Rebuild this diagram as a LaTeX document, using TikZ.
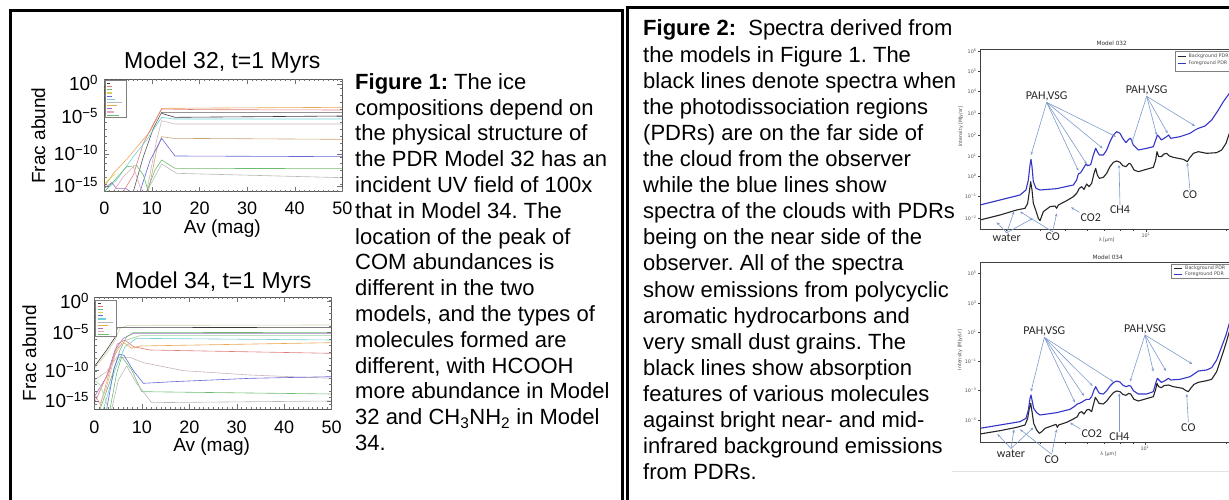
\documentclass[tikz,border=0pt]{standalone}
\usepackage{fontspec}
\setmainfont{Liberation Sans}
\newfontfamily\annfont{Carlito}
\newfontfamily\mplfont{DejaVu Sans}
\usetikzlibrary{arrows.meta}
\frenchspacing

\definecolor{specblue}{HTML}{3434C8}
\definecolor{arrowblue}{HTML}{7C9ACB}
\definecolor{lgray}{HTML}{E2E2E2}
\definecolor{cBlack}{HTML}{3A3A3A}
\definecolor{cDark}{HTML}{5A5A5A}
\definecolor{cRed}{HTML}{E07C7C}
\definecolor{cGreen}{HTML}{6CBC6C}
\definecolor{cYellow}{HTML}{D8D058}
\definecolor{cBlue}{HTML}{6666D6}
\definecolor{cCyan}{HTML}{70D0D8}
\definecolor{cGray}{HTML}{B8B8B8}
\definecolor{cOrange}{HTML}{E8A850}
\definecolor{cPurple}{HTML}{A070C8}
\definecolor{cPink}{HTML}{E4A8C0}
\definecolor{cTan}{HTML}{C8A474}
\definecolor{cPinkGray}{HTML}{CCB4B4}
\definecolor{cLightTan}{HTML}{D6CCAE}

\tikzset{
  panel/.style={draw=black, line width=3pt},
  capline/.style={anchor=base west, inner sep=0pt, font=\fontsize{22}{26}\selectfont},
  zoomed/.style={x=0.33333pt, y=-0.33333pt},
  idlframe/.style={draw=black!65, line width=0.6pt},
  idltick/.style={draw=black!55, line width=0.4pt},
  idllabel/.style={inner sep=0pt, font=\fontsize{19}{22}\selectfont},
  idlnum/.style={inner sep=0pt, anchor=base, font=\fontsize{18}{21}\selectfont},
  idltitle/.style={inner sep=0pt, anchor=base, font=\fontsize{23}{26}\selectfont},
  idlcurve/.style={line width=0.6pt},
  legendbox/.style={draw=black!50, line width=0.5pt, fill=white},
  mplframe/.style={draw=black!75, line width=0.5pt},
  mpltick/.style={inner sep=0pt, font=\mplfont\fontsize{4.8}{5.5}\selectfont, text=black!70},
  mpltitle/.style={inner sep=0pt, font=\mplfont\fontsize{5.8}{6.5}\selectfont, text=black!80},
  bgspec/.style={draw=black!85, line width=1.1pt, line join=round},
  fgspec/.style={draw=specblue, line width=1.1pt, line join=round},
  feature/.style={inner sep=0.8pt, font=\annfont\fontsize{12}{13}\selectfont, text=black!85},
  pointer/.style={draw=arrowblue, line width=0.6pt, -{Stealth[length=3.2pt,width=2.6pt]}},
}

\begin{document}
\begin{tikzpicture}[x=1pt, y=-1pt]
\useasboundingbox (0,0) rectangle (1229,500);
\clip (0,0) rectangle (1229,500);

% ---------- panel frames ----------
\draw[panel] (10.3,520) -- (10.3,11) -- (622.5,11) -- (622.5,520);
\draw[panel] (627.5,520) -- (627.5,8) -- (1240,8);

% ---------- caption of figure 1 ----------
\foreach \txt [count=\i] in {
  {\textbf{Figure 1:} The ice},
  {compositions depend on},
  {the physical structure of},
  {the PDR Model 32 has an},
  {incident UV field of 100x},
  {that in Model 34. The},
  {location of the peak of},
  {COM abundances is},
  {different in the two},
  {models, and the types of},
  {molecules formed are},
  {different, with HCOOH},
  {more abundance in Model},
  {32 and CH\textsubscript{3}NH\textsubscript{2} in Model},
  {34.}}
  \node[capline] (capA\i) at (355, {89.3+25.8*(\i-1)}) {\txt};

% ---------- caption of figure 2 ----------
\foreach \txt [count=\i] in {
  {\textbf{Figure 2:}\ \ Spectra derived from},
  {the models in Figure 1. The},
  {black lines denote spectra when},
  {the photodissociation regions},
  {(PDRs) are on the far side of},
  {the cloud from the observer},
  {while the blue lines show},
  {spectra of the clouds with PDRs},
  {being on the near side of the},
  {observer. All of the spectra},
  {show emissions from polycyclic},
  {aromatic hydrocarbons and},
  {very small dust grains. The},
  {black lines show absorption},
  {features of various molecules},
  {against bright near- and mid-},
  {infrared background emissions},
  {from PDRs.}}
  \node[capline] (capB\i) at (643, {36+26.1*(\i-1)}) {\txt};

% =====================================================
% Abundance plot, model 32
% =====================================================
\begin{scope}[zoomed]
  \node[idltitle] (t32) at (667,205) {Model 32, t=1 Myrs};
  \begin{scope}
    \clip (313,237) rectangle (1027,575);
    \draw[idlcurve, cOrange] (313,560) -- (340,520) -- (380,478) -- (420,430) -- (450,395) -- (485,325) -- (1027,322);
    \draw[idlcurve, cRed] (370,575) -- (400,525) -- (430,430) -- (460,372) -- (485,327) -- (600,329) -- (1027,330);
    \draw[idlcurve, cDark] (400,575) -- (430,470) -- (460,385) -- (485,337) -- (1027,337);
    \draw[idlcurve, cBlack] (485,340) -- (525,352) -- (1027,348);
    \draw[idlcurve, cCyan] (313,575) -- (350,540) -- (400,470) -- (440,420) -- (485,352) -- (520,357) -- (1027,357);
    \draw[idlcurve, cPinkGray] (440,575) -- (470,420) -- (485,362) -- (525,372) -- (1027,372);
    \draw[idlcurve, cTan] (445,575) -- (470,450) -- (485,410) -- (520,415) -- (1027,418);
    \draw[idlcurve, cBlue] (420,575) -- (450,482) -- (485,415) -- (525,468) -- (1027,470);
    \draw[idlcurve, cGreen] (440,575) -- (465,510) -- (485,480) -- (525,505) -- (1027,506);
    \draw[idlcurve, cGray] (440,575) -- (470,520) -- (485,492) -- (530,520) -- (1027,533);
    \draw[idlcurve, cGreen] (313,575) -- (340,545) -- (380,500) -- (410,497) -- (430,525) -- (445,575);
    \draw[idlcurve, cPurple] (313,565) -- (335,548) -- (350,566) -- (378,566) -- (392,575);
    \draw[idlcurve, cPink] (340,575) -- (370,530) -- (400,500) -- (420,560) -- (430,575);
    \draw[idlcurve, cYellow] (313,552) -- (325,540) -- (345,522);
  \end{scope}
  \draw[idlframe] (313,237) rectangle (1027,575);
  \foreach \k in {0,...,50} {
    \draw[idltick] ({313+14.28*\k},575) -- ++(0,-6);
    \draw[idltick] ({313+14.28*\k},237) -- ++(0,6);
  }
  \foreach \k in {0,...,5} {
    \draw[idltick] ({313+142.8*\k},575) -- ++(0,-15);
    \draw[idltick] ({313+142.8*\k},237) -- ++(0,15);
  }
  \foreach \yy in {252,350,463,558} {
    \draw[idltick] (313,\yy) -- ++(15,0);
    \draw[idltick] (1027,\yy) -- ++(-15,0);
  }
  \foreach \k in {0,...,16} {
    \draw[idltick] (313,{245+20.5*\k}) -- ++(7,0);
    \draw[idltick] (1027,{245+20.5*\k}) -- ++(-7,0);
  }
  % legend
  \draw[legendbox] (315,240) rectangle (380,352);
  \foreach \c/\len [count=\i] in {cBlack/10, cRed/15, cGreen/15, cYellow/15, cBlue/15, cCyan/25,
      cGray/45, cOrange/30, cPurple/15, cPink/20, cGreen/35}
    \draw[\c, line width=1.1pt] (321,{241+9.5*\i}) -- ++(\len,0);
  % axes labels
  \foreach \yy/\ee in {272/0, 370/{−5}, 483/{−10}, 578/{−15}}
    \node[idllabel, anchor=base east] at (295,\yy) {10\textsuperscript{\ee}};
  \foreach \v [count=\i from 0] in {0,10,20,30,40,50}
    \node[idlnum] (x32\v) at ({313+142.8*\i},645) {\v};
  \node[idllabel, anchor=base] (av32) at (667,702) {Av (mag)};
  \node[idllabel, rotate=90] (fa32) at (115,407) {Frac abund};
\end{scope}

% =====================================================
% Abundance plot, model 34
% =====================================================
\begin{scope}[shift={(0,240)}]
\begin{scope}[zoomed]
  \node[idltitle] (t34) at (640,145) {Model 34, t=1 Myrs};
  \begin{scope}
    \clip (283,172) rectangle (995,508);
    \draw[idlcurve, cLightTan] (283,385) -- (320,340) -- (345,300) -- (360,265) -- (385,256) -- (995,255);
    \draw[idlcurve, cBlack] (283,380) -- (320,330) -- (345,292) -- (352,263) -- (995,262);
    \draw[idlcurve, cPurple] (283,470) -- (320,410) -- (345,330) -- (370,295) -- (400,280) -- (995,280);
    \draw[idlcurve, cGreen] (300,508) -- (335,410) -- (360,330) -- (380,290) -- (400,278) -- (995,277);
    \draw[idlcurve, cGreen!70] (380,300) -- (420,287) -- (995,287);
    \draw[idlcurve, cCyan] (310,508) -- (345,390) -- (375,320) -- (410,295) -- (995,300);
    \draw[idlcurve, cOrange] (300,500) -- (335,370) -- (352,325) -- (372,308) -- (395,325) -- (420,318) -- (995,308);
    \draw[idlcurve, cRed] (283,490) -- (330,385) -- (352,312) -- (375,300) -- (400,320) -- (450,330) -- (995,340);
    \draw[idlcurve, cPinkGray] (283,420) -- (320,395) -- (350,352) -- (390,352) -- (430,368) -- (550,392) -- (750,405) -- (995,415);
    \draw[idlcurve, cBlue] (320,508) -- (342,385) -- (358,343) -- (372,346) -- (400,392) -- (430,430) -- (520,425) -- (750,415) -- (995,410);
    \draw[idlcurve, cGreen] (330,508) -- (350,400) -- (365,350) -- (395,390) -- (425,455) -- (995,462);
    \draw[idlcurve, cGray] (335,508) -- (355,420) -- (380,378) -- (410,430) -- (455,488) -- (995,483);
    \draw[idlcurve, cPink] (283,460) -- (300,492) -- (320,440) -- (345,345) -- (365,310);
    \draw[idlcurve, cGreen!60] (283,420) -- (300,435) -- (315,475) -- (325,508);
  \end{scope}
  \draw[idlframe] (283,172) rectangle (995,508);
  \foreach \k in {0,...,50} {
    \draw[idltick] ({283+14.24*\k},508) -- ++(0,-6);
    \draw[idltick] ({283+14.24*\k},172) -- ++(0,6);
  }
  \foreach \k in {0,...,5} {
    \draw[idltick] ({283+142.4*\k},508) -- ++(0,-15);
    \draw[idltick] ({283+142.4*\k},172) -- ++(0,15);
  }
  \foreach \yy in {185,278,392,483} {
    \draw[idltick] (283,\yy) -- ++(15,0);
    \draw[idltick] (995,\yy) -- ++(-15,0);
  }
  \foreach \k in {0,...,16} {
    \draw[idltick] (283,{180+19.5*\k}) -- ++(7,0);
    \draw[idltick] (995,{180+19.5*\k}) -- ++(-7,0);
  }
  % legend
  \draw[legendbox] (287,180) rectangle (350,290);
  \foreach \c/\len [count=\i] in {cBlack/10, cRed/15, cGreen/15, cYellow/15, cBlue/15, cCyan/25,
      cGray/45, cOrange/30, cPurple/15, cPink/20, cGreen/35}
    \draw[\c, line width=1.1pt] (293,{180+9.5*\i}) -- ++(\len,0);
  % axes labels
  \foreach \yy/\ee in {205/0, 298/{−5}, 412/{−10}, 503/{−15}}
    \node[idllabel, anchor=base east] at (268,\yy) {10\textsuperscript{\ee}};
  \foreach \v [count=\i from 0] in {0,10,20,30,40,50}
    \node[idlnum] (x34\v) at ({283+142.4*\i},580) {\v};
  \node[idllabel, anchor=base] (av34) at (635,635) {Av (mag)};
  \node[idllabel, rotate=90] (fa34) at (88,340) {Frac abund};
\end{scope}
\end{scope}

% =====================================================
% Spectrum, model 032
% =====================================================
\begin{scope}[shift={(940,0)}]
\begin{scope}[zoomed]
  \node[mpltitle] (s32title) at (515,130) {Model 032};
  \begin{scope}
    \clip (120,148) rectangle (905,688);
    \draw[bgspec] (120,660) -- (180,645) -- (230,630) -- (255,625) -- (263,610) -- (268,575) -- (272,545) -- (276,570) -- (280,610) -- (287,630) -- (295,655) -- (300,662) -- (310,635) -- (330,620) -- (345,618) -- (350,625) -- (355,615) -- (380,602) -- (400,590) -- (410,580) -- (418,565) -- (425,560) -- (432,568) -- (440,552) -- (447,560) -- (455,550) -- (462,520) -- (467,505) -- (472,525) -- (478,535) -- (490,532) -- (500,520) -- (510,500) -- (520,487) -- (530,483) -- (540,487) -- (548,497) -- (558,500) -- (567,490) -- (572,492) -- (582,510) -- (595,515) -- (640,502) -- (647,480) -- (651,455) -- (656,470) -- (664,470) -- (672,462) -- (680,460) -- (688,468) -- (700,472) -- (730,478) -- (742,485) -- (748,475) -- (760,460) -- (775,455) -- (800,460) -- (830,458) -- (845,450) -- (858,430) -- (868,400) -- (900,340);
    \draw[fgspec] (120,615) -- (180,600) -- (240,585) -- (258,570) -- (265,540) -- (270,495) -- (273,478) -- (276,500) -- (280,545) -- (288,565) -- (300,570) -- (350,566) -- (400,555) -- (410,540) -- (415,522) -- (422,518) -- (430,505) -- (438,492) -- (443,497) -- (452,494) -- (460,465) -- (467,445) -- (472,455) -- (478,465) -- (490,465) -- (500,450) -- (510,425) -- (520,405) -- (530,395) -- (540,400) -- (548,415) -- (558,428) -- (566,418) -- (572,415) -- (580,435) -- (595,450) -- (620,445) -- (640,440) -- (647,420) -- (652,405) -- (657,410) -- (664,420) -- (672,415) -- (680,410) -- (686,405) -- (692,415) -- (720,410) -- (750,400) -- (765,390) -- (775,385) -- (795,378) -- (815,360) -- (835,330) -- (850,305) -- (868,280) -- (900,230);
  \end{scope}
  \draw[mplframe] (920,148) -- (120,148) -- (120,688) -- (920,688);
  \foreach \yy/\ee in {155/6, 215/5, 275/4, 340/3, 405/2, 470/1, 530/0, 590/{−1}, 655/{−2}} {
    \draw[mplframe] (120,\yy) -- (113,\yy);
    \node[mpltick, anchor=east] at (110,\yy) {10\textsuperscript{\ee}};
  }
  \draw[mplframe] (618,688) -- (618,696);
  \foreach \xx in {200,300,377,441,494,540,581,859}
    \draw[mplframe] (\xx,688) -- (\xx,693);
  \node[mpltick, anchor=north] (s32x) at (618,698) {10\textsuperscript{1}};
  \node[mpltick, anchor=north] (s32lam) at (500,714) {λ [μm]};
  \node[mpltick, rotate=90] (s32int) at (62,380) {Intensity [MJy/sr]};
  % legend
  \draw[legendbox] (705,155) rectangle (900,215);
  \draw[black!85, line width=0.8pt] (713,170) -- (737,170);
  \draw[specblue, line width=0.8pt] (713,190) -- (737,190);
  \node[mpltick, anchor=west] (s32lb) at (745,170) {Background PDR};
  \node[mpltick, anchor=west] (s32lf) at (745,190) {Foreground PDR};
  % feature labels and pointers
  \node[feature] (pah3a) at (320,290) {PAH,VSG};
  \node[feature] (pah3b) at (620,272) {PAH,VSG};
  \node[feature] (wat3) at (200,713) {water};
  \node[feature] (co3a) at (338,710) {CO};
  \node[feature] (co23) at (452,652) {CO2};
  \node[feature] (ch43) at (540,630) {CH4};
  \node[feature] (co3b) at (750,585) {CO};
  \foreach \x/\y [count=\i] in {273/465, 415/512, 440/492, 488/445, 528/410} {
    \coordinate (p3a\i) at (\x,\y);
    \draw[pointer] (pah3a.south) -- (p3a\i);
  }
  \foreach \x/\y [count=\i] in {575/430, 650/405, 683/400, 765/378} {
    \coordinate (p3b\i) at (\x,\y);
    \draw[pointer] (pah3b.south) -- (p3b\i);
  }
  \foreach \x/\y [count=\i] in {170/667, 222/635, 278/655} {
    \coordinate (w3\i) at (\x,\y);
    \draw[pointer] (wat3.north) -- (w3\i);
  }
  \foreach \x/\y [count=\i] in {240/635, 350/640} {
    \coordinate (c3\i) at (\x,\y);
    \draw[pointer] (co3a.north) -- (c3\i);
  }
  \coordinate (q3a) at (393,622);
  \draw[pointer] (co23.north west) -- (q3a);
  \coordinate (q3b) at (537,495);
  \draw[pointer] (ch43.north) -- (q3b);
  \coordinate (q3c) at (742,488);
  \draw[pointer] (co3b.north) -- (q3c);
\end{scope}
\end{scope}

% =====================================================
% Spectrum, model 034
% =====================================================
\begin{scope}[shift={(940,240)}]
\begin{scope}[zoomed]
  \node[mpltitle] (s34title) at (503,52) {Model 034};
  \begin{scope}
    \clip (120,68) rectangle (905,608);
    \draw[bgspec] (120,582) -- (180,572) -- (230,562) -- (255,555) -- (263,535) -- (268,505) -- (272,490) -- (276,515) -- (281,550) -- (290,570) -- (298,580) -- (305,575) -- (315,565) -- (340,556) -- (348,553) -- (352,562) -- (356,555) -- (380,547) -- (400,537) -- (412,530) -- (418,518) -- (425,515) -- (432,522) -- (440,510) -- (447,508) -- (455,515) -- (460,495) -- (466,472) -- (471,480) -- (477,490) -- (490,492) -- (500,483) -- (510,470) -- (520,458) -- (530,453) -- (540,455) -- (548,463) -- (558,466) -- (566,460) -- (572,462) -- (582,478) -- (595,483) -- (640,470) -- (647,448) -- (651,430) -- (656,440) -- (664,443) -- (672,437) -- (685,435) -- (700,440) -- (728,445) -- (738,452) -- (745,455) -- (752,445) -- (762,433) -- (775,427) -- (800,422) -- (815,418) -- (830,395) -- (845,350) -- (858,310) -- (868,275) -- (900,190);
    \draw[fgspec] (120,565) -- (180,555) -- (240,545) -- (258,535) -- (265,510) -- (270,475) -- (273,465) -- (276,480) -- (281,505) -- (290,518) -- (300,525) -- (350,518) -- (390,508) -- (405,498) -- (412,492) -- (418,490) -- (425,487) -- (432,482) -- (440,478) -- (448,478) -- (455,470) -- (462,450) -- (467,440) -- (472,450) -- (478,460) -- (490,462) -- (500,452) -- (510,438) -- (520,428) -- (530,423) -- (540,426) -- (548,435) -- (558,440) -- (566,437) -- (572,438) -- (580,452) -- (595,462) -- (620,462) -- (640,455) -- (647,430) -- (652,415) -- (657,420) -- (664,427) -- (675,422) -- (685,415) -- (692,420) -- (720,418) -- (750,410) -- (765,400) -- (775,393) -- (800,390) -- (815,383) -- (830,360) -- (845,320) -- (858,285) -- (868,250) -- (900,170);
  \end{scope}
  \draw[mplframe] (920,68) -- (120,68) -- (120,608) -- (920,608);
  \foreach \yy/\ee in {100/5, 190/3, 278/1, 365/{−1}, 452/{−3}, 540/{−5}} {
    \draw[mplframe] (120,\yy) -- (113,\yy);
    \node[mpltick, anchor=east] at (110,\yy) {10\textsuperscript{\ee}};
  }
  \draw[mplframe] (615,608) -- (615,616);
  \foreach \xx in {200,300,377,441,494,540,581,859}
    \draw[mplframe] (\xx,608) -- (\xx,613);
  \node[mpltick, anchor=north] (s34x) at (615,618) {10\textsuperscript{1}};
  \node[mpltick, anchor=north] (s34lam) at (505,636) {λ [μm]};
  \node[mpltick, rotate=90] (s34int) at (60,330) {Intensity [MJy/sr]};
  % legend
  \draw[legendbox] (695,72) rectangle (900,114);
  \draw[black!85, line width=0.8pt] (703,86) -- (727,86);
  \draw[specblue, line width=0.8pt] (703,102) -- (727,102);
  \node[mpltick, anchor=west] (s34lb) at (735,86) {Background PDR};
  \node[mpltick, anchor=west] (s34lf) at (735,102) {Foreground PDR};
  % feature labels and pointers
  \node[feature] (pah4a) at (313,275) {PAH,VSG};
  \node[feature] (pah4b) at (615,268) {PAH,VSG};
  \node[feature] (wat4) at (213,640) {water};
  \node[feature] (co4a) at (335,658) {CO};
  \node[feature] (co24) at (455,582) {CO2};
  \node[feature] (ch44) at (538,590) {CH4};
  \node[feature] (co4b) at (745,562) {CO};
  \foreach \x/\y [count=\i] in {273/455, 405/488, 432/468, 458/438, 520/425} {
    \coordinate (p4a\i) at (\x,\y);
    \draw[pointer] (pah4a.south) -- (p4a\i);
  }
  \foreach \x/\y [count=\i] in {570/425, 640/395, 678/393, 757/372} {
    \coordinate (p4b\i) at (\x,\y);
    \draw[pointer] (pah4b.south) -- (p4b\i);
  }
  \foreach \x/\y [count=\i] in {172/582, 222/568, 280/563} {
    \coordinate (w4\i) at (\x,\y);
    \draw[pointer] (wat4.north) -- (w4\i);
  }
  \foreach \x/\y [count=\i] in {240/568, 350/568} {
    \coordinate (c4\i) at (\x,\y);
    \draw[pointer] (co4a.north) -- (c4\i);
  }
  \coordinate (q4a) at (390,548);
  \draw[pointer] (co24.north west) -- (q4a);
  \coordinate (q4b) at (538,460);
  \draw[pointer] (ch44.north) -- (q4b);
  \coordinate (q4c) at (740,462);
  \draw[pointer] (co4b.north) -- (q4c);
  % lower edge of the inset
  \draw[lgray, line width=0.6pt] (35,695) -- (900,695);
\end{scope}
\end{scope}

\end{tikzpicture}
\end{document}
